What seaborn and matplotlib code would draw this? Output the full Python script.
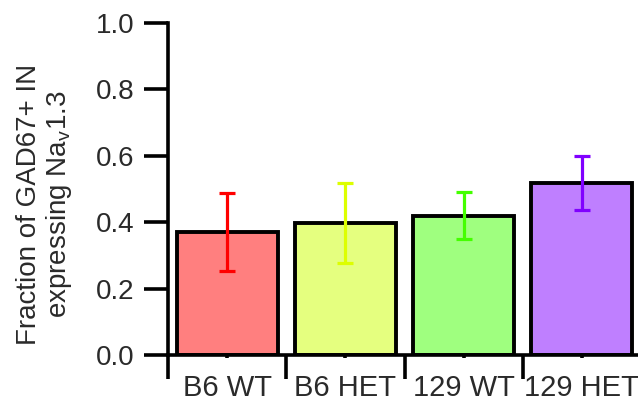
import matplotlib
matplotlib.use("Agg")
import matplotlib.pyplot as plt
import seaborn as sns
import pandas as pd
import numpy as np

categories = ["B6 WT", "B6 HET", "129 WT", "129 HET"]
means = [0.37, 0.398, 0.42, 0.517]
errs = [0.117, 0.12, 0.071, 0.081]
fill_colors = ["#FF7F7F", "#E5FF7F", "#9FFF7F", "#BF7FFF"]
err_colors = ["#FF0000", "#DDFF00", "#44FF00", "#8000FF"]
yticks = [0.0, 0.2, 0.4, 0.6, 0.8, 1.0]

sns.set_style("ticks")
plt.rcParams["font.family"] = ["Liberation Sans", "DejaVu Sans"]
TXT = "#2a2a2a"
LW = 2.6

df = pd.DataFrame({"cat": categories, "val": means})

fig = plt.figure(figsize=(6.38, 4.01), dpi=100)
ax = fig.add_axes([168/638, 46/401, (641-168)/638, 332/401])

sns.barplot(data=df, x="cat", y="val", hue="cat", palette=fill_colors,
            errorbar=None, width=0.855, edgecolor="black", linewidth=2.8,
            legend=False, ax=ax, saturation=1)

for i, (m, e, c) in enumerate(zip(means, errs, err_colors)):
    ax.errorbar(i, m, yerr=e, fmt="none", ecolor=c, elinewidth=2.3,
                capsize=5.5, capthick=2.3, zorder=5)

ax.set_xlim(-0.5, 3.5)
ax.set_ylim(0, 1.0)
ax.set_yticks(yticks)
ax.set_yticklabels([f"{t:.1f}" for t in yticks])
ax.tick_params(axis="y", direction="out", length=17, width=LW, pad=7,
               labelsize=20, labelcolor=TXT, color="black")

ax.set_xticks([-0.5, 0.5, 1.5, 2.5, 3.5])
ax.set_xticklabels([])
ax.set_xticks(range(len(categories)), minor=True)
ax.set_xticklabels(categories, minor=True)
ax.tick_params(axis="x", which="major", direction="out", length=17, width=LW,
               color="black")
ax.tick_params(axis="x", which="minor", direction="out", length=2, width=LW,
               pad=12, labelsize=21, labelcolor=TXT, color="black")

for s in ["top", "right"]:
    ax.spines[s].set_visible(False)
for s in ["left", "bottom"]:
    ax.spines[s].set_linewidth(LW)
    ax.spines[s].set_color("black")
ax.set_xlabel("")
ax.set_ylabel("")

fig.text(45/638, 1 - 204/401, "Fraction of GAD67+ IN\nexpressing Na$_\\mathregular{v}$1.3",
         rotation=90, ha="center", va="center", multialignment="center",
         fontsize=20, color=TXT, linespacing=1.1)

fig.savefig("out.png", dpi=100)
